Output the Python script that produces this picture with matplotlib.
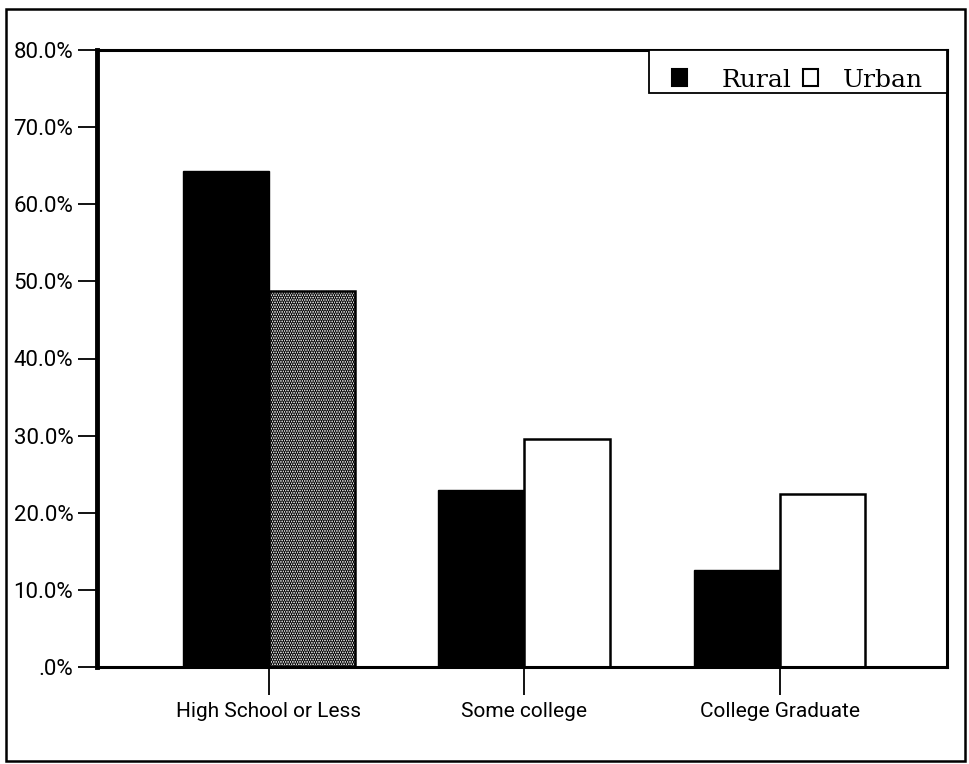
import matplotlib
matplotlib.use("Agg")
import matplotlib.pyplot as plt
from matplotlib.patches import Rectangle
import numpy as np

categories = ["High School or Less", "Some college", "College Graduate"]
rural = [64.3, 22.9, 12.6]
urban = [48.8, 29.6, 22.4]
ytick_vals = [0, 10, 20, 30, 40, 50, 60, 70, 80]
ytick_labels = [".0%", "10.0%", "20.0%", "30.0%", "40.0%", "50.0%", "60.0%", "70.0%", "80.0%"]
series_names = ["Rural", "Urban"]

plt.rcParams["hatch.linewidth"] = 1.6
W, H = 969, 764
L, R, T, B = 97, 947, 50, 667

fig = plt.figure(figsize=(W/100, H/100), dpi=100)
ax = fig.add_axes([L/W, 1 - B/H, (R-L)/W, (B-T)/H])

def axx(px):
    return (px - L) / (R - L)

def axy(py):
    return (B - py) / (B - T)

x = np.arange(len(categories))
w = 0.336
ax.bar(x - w/2, rural, width=w, color="black", edgecolor="black", linewidth=1.0)
b2 = ax.bar(x + w/2, urban, width=w, color="white", edgecolor="black", linewidth=1.8)
b2[0].set_hatch(".......")

ax.set_xlim(-0.673, 2.656)
ax.set_ylim(0, 80)
ax.set_xticks(x)
ax.set_xticklabels(categories, fontsize=15, family="Roboto", color="black")
ax.set_yticks(ytick_vals)
ax.set_yticklabels(ytick_labels, fontsize=16, family="Roboto", color="black")
ax.tick_params(axis="y", direction="out", length=14, width=1.3, pad=3)
ax.tick_params(axis="x", direction="out", length=20, width=1.3, pad=5)
for s in ax.spines.values():
    s.set_linewidth(2.2)
ax.spines["left"].set_linewidth(3.5)

# legend (single row, boxed, top-right)
ax.add_patch(Rectangle((axx(649), axy(93)), axx(R) - axx(649), axy(T) - axy(93),
                       transform=ax.transAxes, facecolor="white", edgecolor="black",
                       linewidth=1.3, clip_on=False, zorder=5))
handle_x = [672, 803]
text_x = [722, 843]
fills = ["black", "white"]
for hx, tx, fc, name in zip(handle_x, text_x, fills, series_names):
    ax.add_patch(Rectangle((axx(hx), axy(86)), axx(hx + 15) - axx(hx), axy(69) - axy(86),
                           transform=ax.transAxes, facecolor=fc, edgecolor="black",
                           linewidth=1.5, clip_on=False, zorder=6))
    ax.text(axx(tx), axy(87), name, transform=ax.transAxes, ha="left", va="baseline",
            fontsize=18, family="DejaVu Serif", zorder=7)

fig.patches.append(Rectangle((6/W, 1 - 761/H), (965-6)/W, (761-9)/H,
                             transform=fig.transFigure, fill=False,
                             edgecolor="black", linewidth=1.8))

fig.savefig("out.png", dpi=100)
